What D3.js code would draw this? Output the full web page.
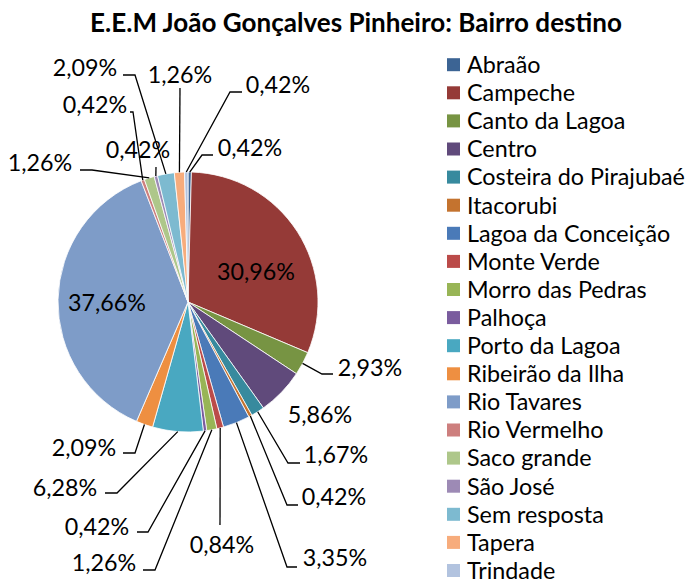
<!DOCTYPE html>
<html><head><meta charset="utf-8">
<script src="https://cdn.jsdelivr.net/npm/d3@7"></script>
<style>body{margin:0;background:#fff}svg{display:block}text{font-family:Lato,"Open Sans",sans-serif;fill:#000}</style>
</head><body>
<svg id="c" width="688" height="583"></svg>
<script>
const title = "E.E.M João Gonçalves Pinheiro: Bairro destino";
const categories = ["Abraão","Campeche","Canto da Lagoa","Centro","Costeira do Pirajubaé","Itacorubi","Lagoa da Conceição","Monte Verde","Morro das Pedras","Palhoça","Porto da Lagoa","Ribeirão da Ilha","Rio Tavares","Rio Vermelho","Saco grande","São José","Sem resposta","Tapera","Trindade"];
const values = [0.42,30.96,2.93,5.86,1.67,0.42,3.35,0.84,1.26,0.42,6.28,2.09,37.66,0.42,1.26,0.42,2.09,1.26,0.42];
const colors = ["#3c6494","#953a37","#779443","#604a7b","#378a9e","#c4732f","#4a7ab8","#bb4b49","#98b556","#7a5c9e","#49a8c1","#ee8f41","#7e9cc8","#cd7f7e","#aec78a","#9d8ab5","#7dbad0","#f7ac7c","#b2c3df"];
// label layout: text centre, leader elbow and end (null = no leader)
const labelPos = [
  {t:[250,148], e:[202,155], z:[213,155]},
  {t:[256,272]},
  {t:[370,368], e:[322,374], z:[333,374]},
  {t:[320,415]},
  {t:[336,455], e:[288,463], z:[300,463]},
  {t:[334,497], e:[287,505], z:[298,505]},
  {t:[335,558], e:[287,567], z:[297,567]},
  {t:[222,545], e:[220,525], z:[220,525]},
  {t:[104,563], e:[155,570], z:[143,570]},
  {t:[97,527], e:[148,532], z:[137,532]},
  {t:[65,488], e:[117,493], z:[105,493]},
  {t:[84,448], e:[135,453], z:[123,453]},
  {t:[107,303]},
  {t:[95,105], e:[133,112], z:[130,112]},
  {t:[40,163], e:[92,170], z:[80,170]},
  {t:[138,150], e:[156,167], z:[156,167]},
  {t:[85,68], e:[135,75], z:[123,75]},
  {t:[180,75], e:[180,88], z:[180,88]},
  {t:[278,85], e:[230,92], z:[242,92]}
];
const fmt = v => v.toFixed(2).replace(".", ",") + "%";

const svg = d3.select("#c");
const cx = 188, cy = 302, R = 130;

function fitSize(str, target, weight, base) {
  const t = svg.append("text").attr("font-size", base).attr("font-weight", weight).text(str);
  const w = t.node().getComputedTextLength(); t.remove();
  return base * target / w;
}
const titleSize = fitSize(title, 532, "bold", 30);
const legSize = fitSize("Costeira do Pirajubaé", 218, "normal", 25);
const labSize = fitSize("30,96%", 78, "normal", 25);

svg.append("text").attr("x", 356).attr("y", 32).attr("text-anchor", "middle")
  .attr("font-weight", "bold").attr("font-size", titleSize).text(title);

const data = categories.map((c, i) => ({c, v: values[i], i}));
const pie = d3.pie().sort(null).value(d => d.v).startAngle(0).endAngle(2 * Math.PI);
const arcs = pie(data);
const arc = d3.arc().innerRadius(0).outerRadius(R);
const g = svg.append("g").attr("transform", `translate(${cx},${cy})`);
g.selectAll("path").data(arcs).join("path")
  .attr("d", arc).attr("fill", d => colors[d.data.i])
  .attr("stroke", "#fff").attr("stroke-width", 0.8).attr("stroke-linejoin", "round");

// leaders
arcs.forEach((a, i) => {
  const p = labelPos[i];
  if (p.e) {
    const m = (a.startAngle + a.endAngle) / 2;
    const sx = cx + R * Math.sin(m), sy = cy - R * Math.cos(m);
    svg.append("polyline").attr("points", [[sx, sy], p.e, p.z].map(q => q.join(",")).join(" "))
      .attr("fill", "none").attr("stroke", "#000").attr("stroke-width", 1.3);
  }
  svg.append("text").attr("x", p.t[0]).attr("y", p.t[1]).attr("dy", "0.36em")
    .attr("text-anchor", "middle").attr("font-size", labSize).text(fmt(a.data.v));
});

// legend
const leg = svg.append("g");
const ly = d3.scaleLinear().domain([0, categories.length - 1]).range([64.7, 64.7 + 18 * 28.1]);
categories.forEach((c, i) => {
  leg.append("rect").attr("x", 447).attr("y", ly(i) - 6.5).attr("width", 13).attr("height", 13).attr("fill", colors[i]);
  leg.append("text").attr("x", 467).attr("y", ly(i)).attr("dy", "0.36em").attr("font-size", legSize).text(c);
});
</script>
</body></html>
